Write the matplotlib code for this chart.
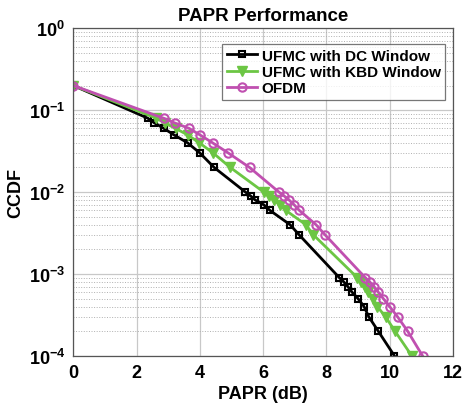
import numpy as np
import matplotlib
matplotlib.use('Agg')
import matplotlib.pyplot as plt
from matplotlib.ticker import LogLocator, NullFormatter

plt.rcParams['font.family'] = ['Liberation Sans', 'DejaVu Sans']
plt.rcParams['font.weight'] = 'bold'

# CCDF levels (same for every curve)
ccdf = [0.2, 0.08, 0.07, 0.06, 0.05, 0.04, 0.03, 0.02,
        0.01, 0.009, 0.008, 0.007, 0.006, 0.004, 0.003,
        0.0009, 0.0008, 0.0007, 0.0006, 0.0005, 0.0004, 0.0003, 0.0002, 0.0001]

# PAPR (dB)
papr_dc = [0, 2.35, 2.56, 2.86, 3.18, 3.61, 4.0, 4.45,
           5.44, 5.6, 5.75, 6.02, 6.21, 6.85, 7.14,
           8.41, 8.55, 8.68, 8.81, 9.0, 9.19, 9.34, 9.64, 10.15]
papr_kbd = [0, 2.62, 2.88, 3.23, 3.61, 3.98, 4.42, 4.96,
            6.02, 6.18, 6.34, 6.53, 6.71, 7.35, 7.59,
            8.98, 9.10, 9.21, 9.32, 9.48, 9.61, 9.87, 10.17, 10.7]
papr_ofdm = [0, 2.85, 3.20, 3.66, 4.0, 4.40, 4.90, 5.57,
             6.5, 6.66, 6.82, 6.98, 7.14, 7.67, 7.96,
             9.23, 9.37, 9.51, 9.64, 9.80, 10.0, 10.25, 10.57, 11.04]

labels = ['UFMC with DC Window', 'UFMC with KBD Window', 'OFDM']

fig = plt.figure(figsize=(4.65, 4.14), dpi=100)
ax = fig.add_axes([0.158, 0.138, 0.816, 0.791])

ax.semilogy(papr_dc, ccdf, color='black', lw=2, marker='s', ms=4.5,
            mfc='none', mec='black', mew=1.5, label=labels[0])
ax.semilogy(papr_kbd, ccdf, color='#6cc644', lw=2, marker='v', ms=6.5,
            mfc='#6cc644', mec='#6cc644', label=labels[1])
ax.semilogy(papr_ofdm, ccdf, color='#c050b0', lw=2, marker='o', ms=6,
            mfc='none', mec='#c050b0', mew=1.5, label=labels[2])

ax.set_xlim(0, 12)
ax.set_ylim(1e-4, 1)
ax.set_xticks(range(0, 13, 2))
ax.yaxis.set_major_locator(LogLocator(base=10, numticks=10))
ax.yaxis.set_minor_locator(LogLocator(base=10, subs=np.arange(2, 10), numticks=10))
ax.yaxis.set_minor_formatter(NullFormatter())

ax.grid(True, which='major', color='#c8c8c8', lw=0.9, ls='-')
ax.grid(True, which='minor', axis='y', color='#b0b0b0', lw=0.7, ls=':')
ax.tick_params(which='both', direction='in', length=0, labelsize=13, pad=6)
for lab in ax.get_xticklabels() + ax.get_yticklabels():
    lab.set_fontweight('bold')
for s in ax.spines.values():
    s.set_color('#555555')
    s.set_linewidth(0.9)

ax.set_xlabel('PAPR (dB)', fontsize=13, fontweight='bold', labelpad=3)
ax.set_ylabel('CCDF', fontsize=13, fontweight='bold', labelpad=3)
ax.set_title('PAPR Performance', fontsize=13.5, fontweight='bold', pad=6)

leg = ax.legend(loc='upper right', bbox_to_anchor=(1.0, 0.975), fontsize=11,
                frameon=True, fancybox=False, edgecolor='#555555',
                handlelength=2.0, handletextpad=0.3, borderpad=0.3,
                labelspacing=0.15, borderaxespad=0.5)
leg.get_frame().set_linewidth(0.9)
for t in leg.get_texts():
    t.set_fontweight('bold')

fig.savefig('out.png', dpi=100)
